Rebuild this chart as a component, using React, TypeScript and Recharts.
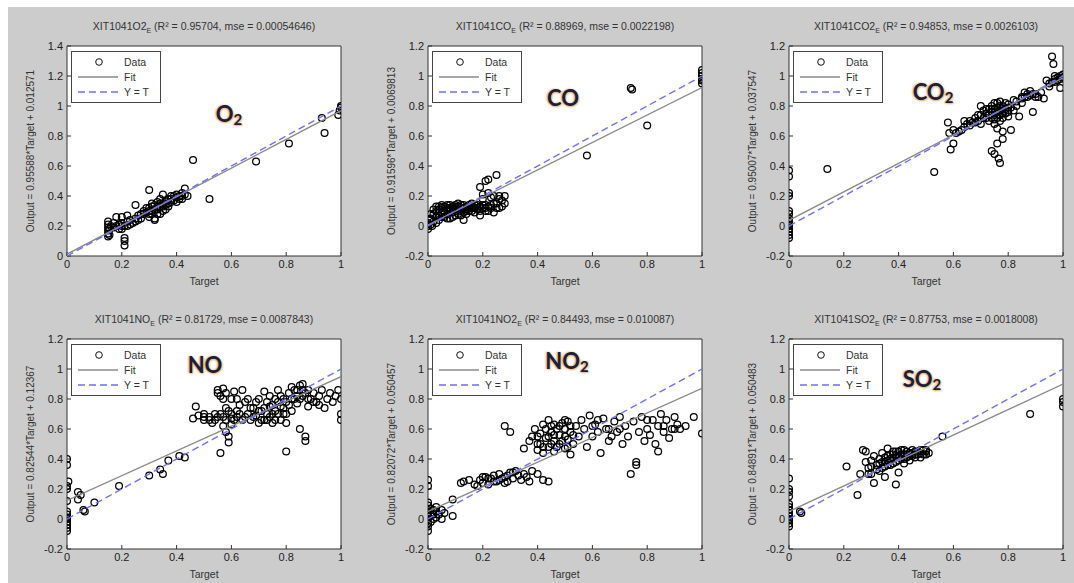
import React from 'react';
import { ScatterChart, Scatter, XAxis, YAxis } from 'recharts';

// axis ticks
const xTicks = [0, 0.2, 0.4, 0.6, 0.8, 1];
const yTicksO2 = [0, 0.2, 0.4, 0.6, 0.8, 1, 1.2, 1.4];
const yTicksStd = [-0.2, 0, 0.2, 0.4, 0.6, 0.8, 1, 1.2];

// scatter points: [target, output]
const o2Data: [number, number][] = [
  [0.15, 0.13], [0.15, 0.15], [0.15, 0.17], [0.15, 0.19], [0.15, 0.21], [0.15, 0.23], [0.155, 0.14], [0.155, 0.18],
  [0.17, 0.19], [0.18, 0.2], [0.18, 0.26], [0.19, 0.21], [0.2, 0.22], [0.2, 0.18], [0.2, 0.26], [0.21, 0.07],
  [0.21, 0.1], [0.21, 0.12], [0.22, 0.27], [0.22, 0.2], [0.23, 0.21], [0.25, 0.34], [0.25, 0.25], [0.26, 0.27],
  [0.27, 0.25], [0.28, 0.28], [0.29, 0.29], [0.3, 0.44], [0.3, 0.3], [0.3, 0.32], [0.31, 0.33], [0.31, 0.3],
  [0.32, 0.34], [0.32, 0.25], [0.33, 0.31], [0.33, 0.36], [0.34, 0.33], [0.34, 0.28], [0.35, 0.35], [0.35, 0.41],
  [0.35, 0.3], [0.36, 0.37], [0.36, 0.34], [0.37, 0.38], [0.37, 0.33], [0.38, 0.36], [0.38, 0.4], [0.39, 0.37],
  [0.4, 0.39], [0.4, 0.36], [0.41, 0.4], [0.42, 0.42], [0.42, 0.38], [0.43, 0.45], [0.44, 0.4], [0.32, 0.24],
  [0.16, 0.2], [0.17, 0.22], [0.19, 0.18], [0.2, 0.2], [0.21, 0.2], [0.22, 0.23], [0.23, 0.24], [0.24, 0.22],
  [0.25, 0.23], [0.26, 0.24], [0.27, 0.28], [0.28, 0.3], [0.29, 0.32], [0.3, 0.28], [0.31, 0.35], [0.32, 0.31],
  [0.33, 0.33], [0.34, 0.35], [0.35, 0.33], [0.36, 0.36], [0.36, 0.31], [0.37, 0.35], [0.38, 0.38], [0.39, 0.4],
  [0.4, 0.41], [0.41, 0.38], [0.42, 0.4], [0.43, 0.41], [0.34, 0.38], [0.33, 0.28], [0.31, 0.28], [0.3, 0.26],
  [0.46, 0.64], [0.52, 0.38], [0.69, 0.63], [0.81, 0.75], [0.93, 0.92], [0.94, 0.82], [0.99, 0.94], [1, 0.99],
  [1, 1.0], [0.995, 0.97],
];

const coData: [number, number][] = [
  [0, -0.02], [0, 0], [0, 0.02], [0.005, 0.04], [0.01, 0.01], [0.01, 0.05], [0.02, 0.08], [0.02, 0.03],
  [0.03, 0.1], [0.03, 0.06], [0.03, 0.13], [0.04, 0.11], [0.04, 0.07], [0.05, 0.12], [0.05, 0.09], [0.05, 0.14],
  [0.06, 0.1], [0.06, 0.13], [0.06, 0.06], [0.07, 0.11], [0.07, 0.14], [0.07, 0.08], [0.08, 0.12], [0.08, 0.1],
  [0.08, 0.05], [0.09, 0.13], [0.09, 0.09], [0.1, 0.12], [0.1, 0.14], [0.1, 0.07], [0.11, 0.11], [0.11, 0.13],
  [0.12, 0.1], [0.12, 0.14], [0.13, 0.12], [0.13, 0.09], [0.13, 0.04], [0.14, 0.13], [0.14, 0.1], [0.15, 0.12],
  [0.15, 0.14], [0.16, 0.1], [0.16, 0.13], [0.17, 0.12], [0.17, 0.09], [0.18, 0.14], [0.18, 0.11], [0.19, 0.13],
  [0.19, 0.26], [0.19, 0.07], [0.2, 0.12], [0.2, 0.21], [0.2, 0.18], [0.21, 0.3], [0.21, 0.14], [0.21, 0.1],
  [0.22, 0.31], [0.22, 0.22], [0.22, 0.13], [0.23, 0.12], [0.23, 0.19], [0.24, 0.2], [0.24, 0.15], [0.24, 0.09],
  [0.25, 0.34], [0.25, 0.12], [0.26, 0.18], [0.26, 0.2], [0.27, 0.13], [0.28, 0.2], [0.28, 0.15],
  [0.02, 0.11], [0.03, 0.02], [0.04, 0.04], [0.04, 0.13], [0.05, 0.06], [0.06, 0.08], [0.07, 0.12], [0.07, 0.05],
  [0.08, 0.14], [0.09, 0.11], [0.09, 0.06], [0.1, 0.1], [0.11, 0.08], [0.11, 0.15], [0.12, 0.12], [0.12, 0.07],
  [0.13, 0.14], [0.14, 0.08], [0.14, 0.11], [0.15, 0.1], [0.16, 0.12], [0.16, 0.15], [0.17, 0.14], [0.18, 0.12],
  [0.19, 0.1], [0.2, 0.14], [0.21, 0.12], [0.22, 0.1], [0.23, 0.14], [0.25, 0.15], [0.26, 0.12], [0.27, 0.17],
  [0.01, 0.08], [0.015, 0.0],
  [0.58, 0.47], [0.74, 0.92], [0.745, 0.91], [0.8, 0.67], [1, 0.95], [1, 0.98], [1, 1.0], [1, 1.02], [1, 1.04], [1, 0.97],
];

const co2Data: [number, number][] = [
  [0, -0.08], [0, -0.06], [0, -0.04], [0, -0.02], [0, 0], [0, 0.01], [0, 0.03], [0, 0.05], [0, 0.08], [0, 0.1],
  [0, 0.2], [0, 0.22], [0, 0.33], [0, 0.37], [0.14, 0.38], [0.53, 0.36],
  [0.58, 0.69], [0.585, 0.62], [0.59, 0.51], [0.6, 0.55], [0.6, 0.64], [0.61, 0.62], [0.62, 0.63],
  [0.64, 0.66], [0.65, 0.68], [0.66, 0.7], [0.67, 0.69], [0.68, 0.72], [0.69, 0.7], [0.7, 0.74], [0.7, 0.68],
  [0.7, 0.8], [0.71, 0.77], [0.72, 0.75], [0.72, 0.72], [0.73, 0.78], [0.73, 0.7], [0.74, 0.8], [0.74, 0.76],
  [0.75, 0.74], [0.75, 0.82], [0.75, 0.68], [0.76, 0.79], [0.76, 0.72], [0.76, 0.65], [0.77, 0.83], [0.77, 0.77],
  [0.77, 0.7], [0.78, 0.8], [0.78, 0.75], [0.78, 0.63], [0.79, 0.78], [0.79, 0.82], [0.8, 0.76], [0.8, 0.81],
  [0.66, 0.67], [0.68, 0.69], [0.69, 0.74], [0.71, 0.72], [0.72, 0.78], [0.73, 0.74], [0.74, 0.72], [0.74, 0.78],
  [0.75, 0.78], [0.75, 0.71], [0.76, 0.76], [0.76, 0.82], [0.77, 0.74], [0.77, 0.8], [0.78, 0.78], [0.78, 0.72],
  [0.79, 0.75], [0.8, 0.79], [0.8, 0.73], [0.83, 0.83], [0.85, 0.86], [0.87, 0.86], [0.89, 0.88], [0.9, 0.86],
  [0.96, 0.96], [0.97, 0.98], [0.99, 0.98], [0.63, 0.64], [0.64, 0.7], [0.85, 0.85],
  [0.74, 0.5], [0.75, 0.48], [0.76, 0.55], [0.765, 0.45], [0.77, 0.42], [0.78, 0.58], [0.81, 0.64],
  [0.81, 0.79], [0.82, 0.77], [0.82, 0.84], [0.83, 0.8], [0.84, 0.73], [0.85, 0.82], [0.86, 0.86], [0.86, 0.89],
  [0.87, 0.88], [0.88, 0.87], [0.88, 0.9], [0.89, 0.76], [0.9, 0.88], [0.91, 0.86], [0.92, 0.89],
  [0.93, 0.85], [0.94, 0.97], [0.95, 0.95], [0.95, 0.93], [0.96, 1.13], [0.965, 1.08], [0.97, 0.96], [0.97, 1.0],
  [0.98, 0.99], [0.98, 0.97], [0.99, 1.0], [1, 1.01], [1, 0.99], [0.99, 0.92],
];

const noData: [number, number][] = [
  [0, -0.08], [0, -0.06], [0, -0.04], [0, -0.02], [0, 0], [0, 0.01], [0, 0.03], [0, 0.05], [0, 0.12], [0, 0.2],
  [0, 0.22], [0, 0.36], [0, 0.4], [0.005, 0.25],
  [0.04, 0.18], [0.04, 0.13], [0.05, 0.16], [0.06, 0.06], [0.065, 0.05], [0.1, 0.11], [0.19, 0.22], [0.3, 0.29],
  [0.34, 0.33], [0.35, 0.3], [0.37, 0.39], [0.41, 0.42], [0.43, 0.41],
  [0.46, 0.67], [0.47, 0.75], [0.48, 0.69], [0.5, 0.66], [0.5, 0.7], [0.52, 0.68], [0.53, 0.64], [0.54, 0.7],
  [0.55, 0.86], [0.55, 0.84], [0.56, 0.82], [0.56, 0.44], [0.57, 0.87], [0.57, 0.68], [0.57, 0.62], [0.58, 0.74],
  [0.58, 0.58], [0.59, 0.55], [0.59, 0.51], [0.6, 0.8], [0.6, 0.67], [0.6, 0.63],
  [0.61, 0.85], [0.62, 0.72], [0.62, 0.68], [0.63, 0.7], [0.64, 0.86], [0.64, 0.66], [0.65, 0.78], [0.66, 0.7],
  [0.67, 0.66], [0.68, 0.74], [0.69, 0.69], [0.7, 0.64], [0.7, 0.8],
  [0.71, 0.72], [0.72, 0.85], [0.72, 0.66], [0.73, 0.78], [0.73, 0.7], [0.74, 0.82], [0.74, 0.68], [0.75, 0.76],
  [0.75, 0.64], [0.76, 0.8], [0.76, 0.72], [0.77, 0.86], [0.77, 0.7], [0.78, 0.75], [0.78, 0.66], [0.79, 0.8],
  [0.79, 0.7], [0.8, 0.45], [0.8, 0.78], [0.8, 0.64],
  [0.55, 0.68], [0.56, 0.7], [0.57, 0.8], [0.58, 0.66], [0.59, 0.72], [0.6, 0.7], [0.61, 0.66], [0.62, 0.8],
  [0.63, 0.76], [0.65, 0.68], [0.66, 0.8], [0.67, 0.74], [0.68, 0.68], [0.69, 0.78], [0.7, 0.72], [0.71, 0.66],
  [0.72, 0.74], [0.73, 0.66], [0.74, 0.75], [0.75, 0.7], [0.76, 0.66], [0.77, 0.78], [0.78, 0.82], [0.79, 0.74],
  [0.8, 0.7], [0.81, 0.76], [0.82, 0.8], [0.83, 0.86], [0.84, 0.82], [0.85, 0.8], [0.86, 0.86], [0.87, 0.84],
  [0.88, 0.8], [0.9, 0.78], [0.92, 0.76], [0.5, 0.68], [0.52, 0.66], [0.54, 0.66], [0.58, 0.84],
  [0.81, 0.84], [0.82, 0.88], [0.82, 0.72], [0.83, 0.8], [0.84, 0.86], [0.84, 0.77], [0.85, 0.89], [0.85, 0.6],
  [0.86, 0.9], [0.86, 0.82], [0.87, 0.55], [0.87, 0.52], [0.88, 0.86], [0.88, 0.75], [0.89, 0.8], [0.9, 0.84],
  [0.91, 0.78], [0.92, 0.82], [0.93, 0.86], [0.94, 0.74], [0.95, 0.8], [0.96, 0.84], [0.97, 0.78], [0.98, 0.82],
  [0.99, 0.86], [1, 0.66], [1, 0.7], [1, 0.8],
];

const no2Data: [number, number][] = [
  [0, -0.08], [0, -0.05], [0, -0.03], [0, 0], [0, 0.02], [0, 0.04], [0, 0.06], [0, 0.09], [0, 0.11], [0, 0.22], [0, 0.26],
  [0.01, 0.03], [0.02, 0], [0.02, 0.06], [0.03, 0.01], [0.03, 0.05], [0.04, 0.03], [0.05, 0.06], [0.05, 0],
  [0.06, 0.04], [0.09, 0.13], [0.09, 0.02], [0.01, -0.02], [0.02, 0.03], [0.03, 0.08], [0.01, 0.07],
  [0.12, 0.24], [0.13, 0.25], [0.15, 0.26], [0.17, 0.23], [0.18, 0.22], [0.19, 0.26], [0.2, 0.24], [0.21, 0.28],
  [0.22, 0.23], [0.23, 0.27], [0.24, 0.29], [0.25, 0.25], [0.26, 0.3], [0.27, 0.27], [0.28, 0.24], [0.28, 0.62],
  [0.29, 0.29], [0.3, 0.31], [0.3, 0.58], [0.31, 0.27], [0.32, 0.32], [0.33, 0.29], [0.34, 0.26], [0.35, 0.3],
  [0.36, 0.28], [0.37, 0.25], [0.38, 0.32], [0.4, 0.3], [0.42, 0.26], [0.44, 0.25],
  [0.2, 0.28], [0.22, 0.27], [0.24, 0.25], [0.26, 0.26], [0.28, 0.28], [0.29, 0.25], [0.31, 0.31],
  [0.35, 0.47], [0.37, 0.52], [0.38, 0.55], [0.39, 0.6], [0.4, 0.46], [0.4, 0.5], [0.41, 0.57], [0.42, 0.63],
  [0.42, 0.44], [0.43, 0.54], [0.44, 0.66], [0.44, 0.48], [0.45, 0.58], [0.45, 0.62], [0.46, 0.52], [0.46, 0.45],
  [0.47, 0.6], [0.48, 0.5], [0.48, 0.56], [0.49, 0.64], [0.5, 0.47], [0.5, 0.6], [0.51, 0.53], [0.51, 0.65],
  [0.52, 0.43], [0.52, 0.58], [0.53, 0.5], [0.54, 0.62], [0.55, 0.55], [0.56, 0.66],
  [0.4, 0.55], [0.41, 0.5], [0.42, 0.48], [0.43, 0.6], [0.44, 0.55], [0.45, 0.5], [0.46, 0.56], [0.46, 0.63],
  [0.47, 0.48], [0.48, 0.62], [0.49, 0.52], [0.5, 0.55], [0.5, 0.66], [0.51, 0.48], [0.52, 0.62], [0.53, 0.56],
  [0.57, 0.6], [0.58, 0.48], [0.59, 0.69], [0.6, 0.55], [0.61, 0.63], [0.62, 0.58], [0.63, 0.44], [0.64, 0.67],
  [0.65, 0.6], [0.66, 0.52], [0.67, 0.55], [0.68, 0.65], [0.69, 0.58], [0.7, 0.68], [0.71, 0.5], [0.72, 0.62],
  [0.73, 0.55], [0.74, 0.3], [0.75, 0.65], [0.76, 0.38], [0.76, 0.36], [0.77, 0.58], [0.78, 0.68], [0.79, 0.52],
  [0.6, 0.62], [0.62, 0.66], [0.66, 0.6], [0.7, 0.6], [0.8, 0.66], [0.86, 0.62], [0.9, 0.6],
  [0.8, 0.6], [0.81, 0.56], [0.82, 0.66], [0.83, 0.5], [0.84, 0.45], [0.84, 0.62], [0.85, 0.7], [0.86, 0.58],
  [0.87, 0.66], [0.88, 0.54], [0.89, 0.6], [0.9, 0.68], [0.91, 0.63], [0.92, 0.6], [0.94, 0.62], [0.97, 0.68], [1, 0.57],
];

const so2Data: [number, number][] = [
  [0, -0.05], [0, -0.03], [0, -0.01], [0, 0], [0, 0.02], [0, 0.04], [0, 0.06], [0, 0.08], [0, 0.1], [0, 0.15],
  [0, 0.18], [0, 0.2], [0, 0.27], [0.04, 0.05], [0.045, 0.04],
  [0.21, 0.35], [0.25, 0.16], [0.26, 0.3], [0.27, 0.46], [0.28, 0.45], [0.29, 0.34], [0.3, 0.39], [0.3, 0.3],
  [0.31, 0.24], [0.31, 0.42], [0.32, 0.36], [0.33, 0.4], [0.33, 0.32], [0.34, 0.44], [0.34, 0.38], [0.35, 0.28],
  [0.35, 0.35], [0.35, 0.41], [0.36, 0.47], [0.36, 0.39], [0.37, 0.43], [0.37, 0.36], [0.38, 0.4], [0.38, 0.45],
  [0.39, 0.23], [0.39, 0.38], [0.4, 0.42], [0.4, 0.31], [0.41, 0.46], [0.41, 0.4], [0.42, 0.37], [0.42, 0.43],
  [0.43, 0.41], [0.43, 0.45], [0.44, 0.39], [0.44, 0.44], [0.45, 0.42], [0.45, 0.46], [0.46, 0.43], [0.47, 0.45],
  [0.48, 0.41], [0.48, 0.44], [0.49, 0.46], [0.5, 0.43], [0.5, 0.45], [0.51, 0.44],
  [0.32, 0.33], [0.33, 0.37], [0.34, 0.34], [0.36, 0.42], [0.37, 0.4], [0.38, 0.37], [0.39, 0.42], [0.39, 0.45],
  [0.4, 0.39], [0.4, 0.45], [0.41, 0.43], [0.42, 0.4], [0.42, 0.46], [0.43, 0.43], [0.44, 0.42], [0.45, 0.44],
  [0.46, 0.45], [0.46, 0.41], [0.47, 0.43], [0.48, 0.46], [0.49, 0.43], [0.5, 0.46], [0.35, 0.38], [0.36, 0.36],
  [0.38, 0.43], [0.29, 0.3], [0.28, 0.38], [0.3, 0.35],
  [0.56, 0.55], [0.88, 0.7], [1, 0.75], [1, 0.78], [1, 0.8],
];

// fit line end points (from the equations on the y labels) and the Y = T line
const o2Fit: [number, number][] = [[0, 0.0126], [1, 0.9685]];
const coFit: [number, number][] = [[0, 0.007], [1, 0.923]];
const co2Fit: [number, number][] = [[0, 0.0375], [1, 0.9876]];
const noFit: [number, number][] = [[0, 0.1237], [1, 0.9491]];
const no2Fit: [number, number][] = [[0, 0.0505], [1, 0.8712]];
const so2Fit: [number, number][] = [[0, 0.0505], [1, 0.8994]];
const identity: [number, number][] = [[0, 0], [1, 1]];

const PLOT_W = 274;
const PLOT_H = 210;
const ML = 40;
const MT = 10;
const FONT = '"Liberation Sans", Arial, sans-serif';

const toPts = (arr: [number, number][]) => arr.map(([x, y]) => ({ x, y }));

const Circle = (p: any) => (
  <circle cx={p.cx} cy={p.cy} r={3.4} fill="none" stroke="#000" strokeWidth={1.25} />
);
const NoShape = () => <g />;

type PanelProps = {
  px: number;
  py: number;
  title: string;
  sub: string;
  stats: string;
  yLabel: string;
  gas: string;
  gasSub?: string;
  gasX: number;
  gasY: number;
  data: [number, number][];
  fit: [number, number][];
  yDomain: [number, number];
  yTicks: number[];
};

const Panel = (p: PanelProps) => {
  const W = ML + PLOT_W + 1 + 9;
  const H = MT + PLOT_H + 20;
  const tickStyle = { fontSize: 11, fill: '#222', fontFamily: FONT };
  return (
    <>
      <div style={{ position: 'absolute', left: p.px, top: p.py, width: PLOT_W, height: PLOT_H, background: '#fff' }} />
      <div style={{ position: 'absolute', left: p.px - ML, top: p.py - MT }}>
        <ScatterChart width={W} height={H} margin={{ top: MT - 1, right: 9, bottom: 0, left: 0 }}>
          <XAxis xAxisId="x" type="number" dataKey="x" domain={[0, 1]} ticks={xTicks} interval={0}
            height={20} tickSize={-4} tickMargin={8} tick={tickStyle} stroke="#333" allowDataOverflow />
          <XAxis xAxisId="t" type="number" orientation="top" domain={[0, 1]} ticks={xTicks} interval={0}
            height={1} tickSize={-4} tickFormatter={() => ''} stroke="#333" />
          <YAxis yAxisId="y" type="number" dataKey="y" domain={p.yDomain} ticks={p.yTicks} interval={0}
            width={ML} tickSize={-4} tickMargin={8} tick={tickStyle} stroke="#333" allowDataOverflow />
          <YAxis yAxisId="r" type="number" orientation="right" domain={p.yDomain} ticks={p.yTicks} interval={0}
            width={1} tickSize={-4} tickFormatter={() => ''} stroke="#333" />
          <Scatter xAxisId="x" yAxisId="y" data={toPts(p.data)} shape={Circle} isAnimationActive={false} />
          <Scatter xAxisId="x" yAxisId="y" data={toPts(p.fit)} shape={NoShape}
            line={{ stroke: '#8a8a8a', strokeWidth: 1.4 }} isAnimationActive={false} />
          <Scatter xAxisId="x" yAxisId="y" data={toPts(identity)} shape={NoShape}
            line={{ stroke: '#6f6fff', strokeWidth: 1.4, strokeDasharray: '7 4' }} isAnimationActive={false} />
        </ScatterChart>
      </div>
      {/* title */}
      <div style={{ position: 'absolute', left: p.px - 20, width: PLOT_W + 40, top: p.py - 26, textAlign: 'center',
        fontSize: 10.5, color: '#333', fontFamily: FONT, whiteSpace: 'nowrap' }}>
        {p.title}<sub style={{ fontSize: 7 }}>{p.sub}</sub> {p.stats}
      </div>
      {/* x label */}
      <div style={{ position: 'absolute', left: p.px, width: PLOT_W, top: p.py + PLOT_H + 19, textAlign: 'center',
        fontSize: 10.5, color: '#333', fontFamily: FONT }}>Target</div>
      {/* y label */}
      <div style={{ position: 'absolute', left: p.px - 37, top: p.py + PLOT_H / 2, transform: 'translate(-50%, -50%) rotate(-90deg)',
        fontSize: 10, color: '#333', fontFamily: FONT, whiteSpace: 'nowrap' }}>{p.yLabel}</div>
      {/* legend */}
      <div style={{ position: 'absolute', left: p.px + 4, top: p.py + 5, width: 90, height: 52, background: '#fff',
        border: '1px solid #444', boxSizing: 'border-box' }}>
        <svg width={88} height={50} style={{ display: 'block' }}>
          <circle cx={27} cy={10} r={3.3} fill="none" stroke="#111" strokeWidth={1} />
          <line x1={6} x2={46} y1={25} y2={25} stroke="#8a8a8a" strokeWidth={1.4} />
          <line x1={6} x2={46} y1={40} y2={40} stroke="#6f6fff" strokeWidth={1.4} strokeDasharray="7 4" />
          <text x={52} y={14} fontSize={10.5} fill="#333" fontFamily={FONT}>Data</text>
          <text x={52} y={29} fontSize={10.5} fill="#333" fontFamily={FONT}>Fit</text>
          <text x={52} y={44} fontSize={10.5} fill="#333" fontFamily={FONT}>Y = T</text>
        </svg>
      </div>
      {/* gas label */}
      <div style={{ position: 'absolute', left: p.gasX, top: p.gasY, transform: 'translate(-50%, -50%)',
        fontSize: 22, fontWeight: 700, fontFamily: 'Lato, "Open Sans", sans-serif', color: '#17213f',
        textShadow: '-1px 0 2px rgba(224,140,40,0.85), 1px 1px 2px rgba(224,140,40,0.6)', whiteSpace: 'nowrap' }}>
        {p.gas}{p.gasSub && <span style={{ fontSize: 15, position: 'relative', top: 3 }}>{p.gasSub}</span>}
      </div>
    </>
  );
};

const colX = [67, 428, 789];
const rowY = [46, 339];

export default function App() {
  return (
    <div style={{ position: 'absolute', left: 0, top: 0, width: 1074, height: 583, background: '#fff', overflow: 'hidden' }}>
      <div style={{ position: 'absolute', left: 8, top: 7, right: 0, bottom: 0, background: '#cccccc' }} />
      <Panel px={colX[0]} py={rowY[0]} title="XIT1041O2" sub="E" stats="(R² = 0.95704, mse = 0.00054646)"
        yLabel="Output = 0.95588*Target + 0.012571" gas="O" gasSub="2" gasX={229} gasY={113}
        data={o2Data} fit={o2Fit} yDomain={[0, 1.4]} yTicks={yTicksO2} />
      <Panel px={colX[1]} py={rowY[0]} title="XIT1041CO" sub="E" stats="(R² = 0.88969, mse = 0.0022198)"
        yLabel="Output = 0.91596*Target + 0.0069813" gas="CO" gasX={563} gasY={97}
        data={coData} fit={coFit} yDomain={[-0.2, 1.2]} yTicks={yTicksStd} />
      <Panel px={colX[2]} py={rowY[0]} title="XIT1041CO2" sub="E" stats="(R² = 0.94853, mse = 0.0026103)"
        yLabel="Output = 0.95007*Target + 0.037547" gas="CO" gasSub="2" gasX={933} gasY={91}
        data={co2Data} fit={co2Fit} yDomain={[-0.2, 1.2]} yTicks={yTicksStd} />
      <Panel px={colX[0]} py={rowY[1]} title="XIT1041NO" sub="E" stats="(R² = 0.81729, mse = 0.0087843)"
        yLabel="Output = 0.82544*Target + 0.12367" gas="NO" gasX={205} gasY={364}
        data={noData} fit={noFit} yDomain={[-0.2, 1.2]} yTicks={yTicksStd} />
      <Panel px={colX[1]} py={rowY[1]} title="XIT1041NO2" sub="E" stats="(R² = 0.84493, mse = 0.010087)"
        yLabel="Output = 0.82072*Target + 0.050457" gas="NO" gasSub="2" gasX={567} gasY={360}
        data={no2Data} fit={no2Fit} yDomain={[-0.2, 1.2]} yTicks={yTicksStd} />
      <Panel px={colX[2]} py={rowY[1]} title="XIT1041SO2" sub="E" stats="(R² = 0.87753, mse = 0.0018008)"
        yLabel="Output = 0.84891*Target + 0.050483" gas="SO" gasSub="2" gasX={922} gasY={378}
        data={so2Data} fit={so2Fit} yDomain={[-0.2, 1.2]} yTicks={yTicksStd} />
    </div>
  );
}
